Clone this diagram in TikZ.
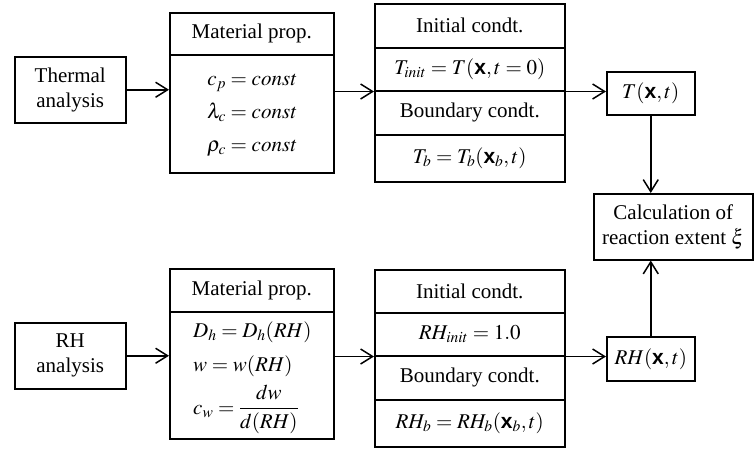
\documentclass[tikz,border=0pt]{standalone}
\usepackage{amsmath}
\usepackage{mathptmx}
\usepackage[no-math]{fontspec}
\setmainfont{Liberation Serif}
\setsansfont{Liberation Sans}
\usetikzlibrary{arrows.meta}
\newcommand{\bx}{\mbox{\bfseries\sffamily x}}
\tikzset{
  cell/.style={draw, line width=1.5pt, inner sep=0pt, anchor=north west, align=center},
  arr/.style={line width=1.5pt, -{Straight Barb[length=12pt,width=15pt,line width=1.5pt]}},
  eqline/.style={inner sep=0pt, anchor=base west},
  every node/.style={font=\fontsize{21}{25}\selectfont}
}
\begin{document}
\begin{tikzpicture}[x=1pt,y=-1pt]
\useasboundingbox (0,0) rectangle (754,448);
% thermal branch
\node[cell, minimum width=111pt, minimum height=66pt] (thA) at (14,56) {Thermal\\analysis};
\node[cell, minimum width=164pt, minimum height=42pt] (mTh) at (169,12) {Material prop.};
\node[cell, minimum width=164pt, minimum height=118pt] (mTb) at (169,54)
  {$\begin{aligned} c_p &= \mathit{const}\\[5pt] \lambda_c &= \mathit{const}\\[5pt] \rho_c &= \mathit{const}\end{aligned}$};
\node[cell, minimum width=190pt, minimum height=44pt] (iT1) at (374,3) {Initial condt.};
\node[cell, minimum width=190pt, minimum height=43pt] (iT2) at (374,47) {$T_{init} = T(\bx, t=0)$};
\node[cell, minimum width=190pt, minimum height=44pt] (iT3) at (374,90) {Boundary condt.};
\node[cell, minimum width=190pt, minimum height=47pt] (iT4) at (374,134) {$T_b = T_b(\bx_b, t)$};
\node[cell, minimum width=88pt, minimum height=43pt] (T) at (606,71) {$T(\bx, t)$};
% calculation
\node[cell, minimum width=159pt, minimum height=66pt] (calc) at (593,193) {Calculation of\\reaction extent $\xi$};
% RH branch
\node[cell, minimum width=111pt, minimum height=66pt] (rhA) at (14,322) {RH\\analysis};
\node[cell, minimum width=164pt, minimum height=43pt] (mRh) at (169,268) {Material prop.};
\node[cell, minimum width=164pt, minimum height=127pt] (mRb) at (169,311) {};
\node[eqline] (mRb1) at (193,337) {$D_h = D_h(RH)$};
\node[eqline] (mRb2) at (193,371) {$w = w(RH)$};
\node[eqline] (mRb3) at (193,414) {$c_w = \dfrac{dw}{d(RH)}$};
\node[cell, minimum width=190pt, minimum height=43pt] (iR1) at (374,269) {Initial condt.};
\node[cell, minimum width=190pt, minimum height=43pt] (iR2) at (374,312) {$RH_{init} = 1.0$};
\node[cell, minimum width=190pt, minimum height=44pt] (iR3) at (374,355) {Boundary condt.};
\node[cell, minimum width=190pt, minimum height=47pt] (iR4) at (374,399) {$RH_b = RH_b(\bx_b, t)$};
\node[cell, minimum width=88pt, minimum height=44pt] (RHb) at (606,336) {$RH(\bx, t)$};
% connectors
\draw[arr] (thA.east) -- (thA.east -| mTb.west);
\draw[arr] (mTb.east |- iT2.south west) -- (iT2.south west);
\draw[arr] (iT2.south east) -- (iT2.south east -| T.west);
\draw[arr] (T.south) -- (T.south |- calc.north);
\draw[arr] (rhA.east) -- (rhA.east -| mRb.west);
\draw[arr] (mRb.east |- iR2.south west) -- (iR2.south west);
\draw[arr] (iR2.south east) -- (iR2.south east -| RHb.west);
\draw[arr] (RHb.north) -- (RHb.north |- calc.south);
\end{tikzpicture}
\end{document}
